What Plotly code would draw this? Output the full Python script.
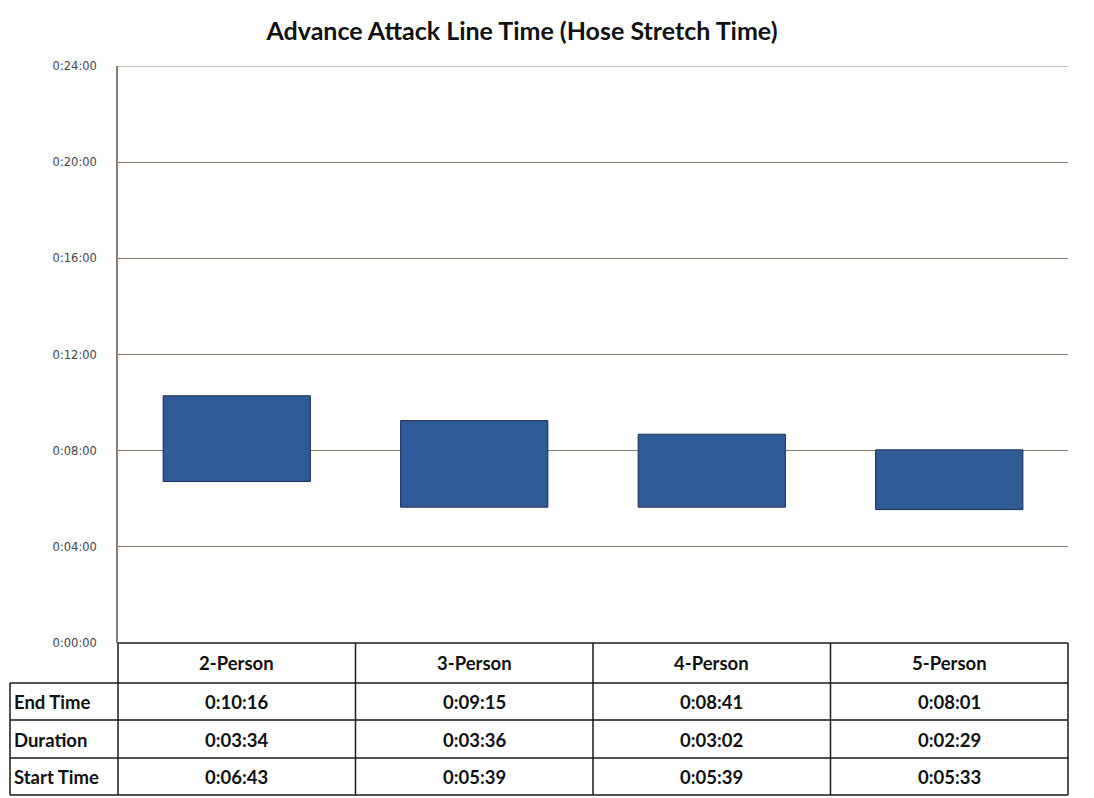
import plotly.graph_objects as go

categories = ["2-Person", "3-Person", "4-Person", "5-Person"]
end_labels = ["0:10:16", "0:09:15", "0:08:41", "0:08:01"]
duration_labels = ["0:03:34", "0:03:36", "0:03:02", "0:02:29"]
start_labels = ["0:06:43", "0:05:39", "0:05:39", "0:05:33"]
row_names = ["End Time", "Duration", "Start Time"]
tick_values = [0, 240, 480, 720, 960, 1200, 1440]
tick_labels = ["0:00:00", "0:04:00", "0:08:00", "0:12:00", "0:16:00", "0:20:00", "0:24:00"]
title_text = "Advance Attack Line Time (Hose Stretch Time)"


def to_sec(s):
    h, m, sec = [int(p) for p in s.split(":")]
    return h * 3600 + m * 60 + sec


start_s = [to_sec(s) for s in start_labels]
dur_s = [to_sec(s) for s in duration_labels]

OFF = 8  # page body margin
W, H = 1094 - OFF, 798 - OFF
L, R, T, B = 118 - OFF, 26, 66 - OFF, 155
PW, PH = W - L - R, H - T - B


def py(p):  # screen pixel y -> paper y
    return (H - B - (p - OFF)) / PH


def px(p):  # screen pixel x -> paper x
    return ((p - OFF) - L) / PW


fig = go.Figure()
fig.add_trace(go.Bar(
    x=categories, y=dur_s, base=start_s,
    marker=dict(color="#2F5B98", line=dict(color="#1B2F50", width=1)),
    width=0.62, hoverinfo="skip",
))

line_col = "#1a1a1a"
grid_col = "#8C7C72"
shapes = []
# top gridline
shapes.append(dict(type="line", xref="paper", yref="y", x0=0, x1=1, y0=1440, y1=1440,
                   line=dict(color=grid_col, width=1)))
rows_px = [643, 683, 720, 758, 795]
shapes.append(dict(type="line", xref="paper", yref="paper", x0=0, x1=1, y0=py(643), y1=py(643),
                   line=dict(color=line_col, width=1.5)))
for p in rows_px[1:]:
    shapes.append(dict(type="line", xref="paper", yref="paper", x0=px(10), x1=1, y0=py(p), y1=py(p),
                       line=dict(color=line_col, width=1.5)))
for xv in [0, 1]:
    shapes.append(dict(type="line", xref="paper", yref="paper", x0=xv, x1=xv, y0=py(643), y1=py(795),
                       line=dict(color=line_col, width=1.5)))
shapes.append(dict(type="line", xref="paper", yref="paper", x0=px(10), x1=px(10), y0=py(683), y1=py(795),
                   line=dict(color=line_col, width=1.5)))
for i in range(1, len(categories)):
    shapes.append(dict(type="line", xref="x", yref="paper", x0=i - 0.5, x1=i - 0.5, y0=py(643), y1=py(795),
                       line=dict(color=line_col, width=1.5)))

annotations = []
tf = dict(family="Lato, 'Open Sans', sans-serif", size=18.5, color="#111111")
row_centers = [702, 739.5, 777]
for i, c in enumerate(categories):
    annotations.append(dict(x=c, xref="x", y=py(663), yref="paper", text="<b>%s</b>" % c,
                            showarrow=False, yanchor="middle", xanchor="center", font=tf))
    for vals, yc in zip([end_labels, duration_labels, start_labels], row_centers):
        annotations.append(dict(x=c, xref="x", y=py(yc), yref="paper", text="<b>%s</b>" % vals[i],
                                showarrow=False, yanchor="middle", xanchor="center", font=tf))
for name, yc in zip(row_names, row_centers):
    annotations.append(dict(x=px(14), xref="paper", y=py(yc), yref="paper", text="<b>%s</b>" % name,
                            showarrow=False, xanchor="left", yanchor="middle", xshift=-2, font=tf))

fig.update_layout(
    width=W, height=H,
    margin=dict(l=L, r=R, t=T, b=B),
    paper_bgcolor="white", plot_bgcolor="white",
    showlegend=False,
    title=dict(text="<b>%s</b>" % title_text, x=(522 - OFF) / W, xanchor="center",
               y=1 - (31 - OFF) / H, yanchor="middle",
               font=dict(family="Lato, 'Open Sans', sans-serif", size=25, color="#111111")),
    xaxis=dict(showticklabels=False, showgrid=False, zeroline=False, showline=False,
               range=[-0.5, 3.5], fixedrange=True),
    yaxis=dict(range=[0, 1440], tickvals=tick_values, ticktext=tick_labels,
               showgrid=True, gridcolor=grid_col, gridwidth=1,
               showline=True, linecolor=grid_col, linewidth=1.5,
               zeroline=False, ticks="", ticklabelstandoff=17,
               tickfont=dict(family="DejaVu Sans, sans-serif", size=11.5, color="#444444")),
    shapes=shapes,
    annotations=annotations,
    bargap=0.38,
)

fig.write_html("out.html")
